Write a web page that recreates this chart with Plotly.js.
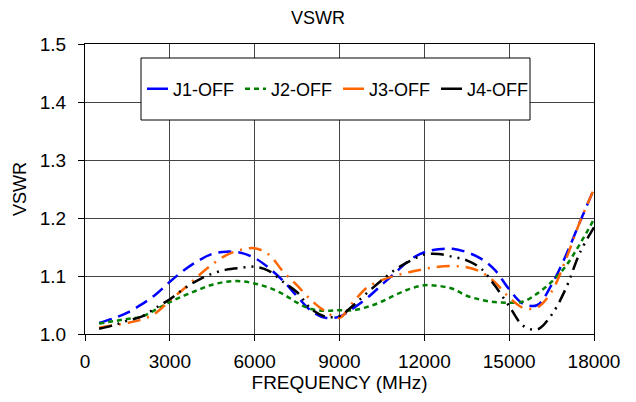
<!DOCTYPE html>
<html>
<head>
<meta charset="utf-8">
<script src="https://cdn.plot.ly/plotly-3.0.1.min.js"></script>
<style>html,body{margin:0;padding:0;background:#fff;}#chart{width:636px;height:402px;}</style>
</head>
<body>
<div id="chart"></div>
<script>
var freq = [500,1000,1500,2000,2500,3000,3500,4000,4500,5000,5500,6000,6500,7000,7500,8000,8500,9000,9500,10000,10500,11000,11500,12000,12500,13000,13500,14000,14500,15000,15500,16000,16500,17000,17500,18000];
var j1 = [1.019,1.027,1.037,1.051,1.068,1.090,1.110,1.126,1.138,1.142,1.140,1.131,1.114,1.092,1.065,1.040,1.028,1.030,1.045,1.063,1.085,1.107,1.128,1.141,1.146,1.147,1.141,1.130,1.110,1.077,1.052,1.050,1.085,1.135,1.193,1.250];
var j2 = [1.018,1.022,1.026,1.030,1.042,1.055,1.066,1.076,1.085,1.090,1.091,1.087,1.080,1.069,1.054,1.043,1.040,1.041,1.041,1.047,1.056,1.068,1.078,1.084,1.083,1.078,1.066,1.059,1.055,1.054,1.056,1.070,1.090,1.117,1.155,1.198];
var j3 = [1.011,1.015,1.019,1.025,1.036,1.058,1.078,1.100,1.120,1.136,1.145,1.148,1.137,1.108,1.084,1.058,1.039,1.028,1.056,1.081,1.093,1.101,1.107,1.112,1.116,1.117,1.115,1.107,1.089,1.063,1.045,1.046,1.073,1.128,1.193,1.250];
var j4 = [1.009,1.015,1.023,1.030,1.045,1.060,1.078,1.093,1.104,1.111,1.114,1.116,1.109,1.090,1.072,1.043,1.030,1.031,1.050,1.072,1.093,1.112,1.126,1.137,1.138,1.133,1.127,1.113,1.083,1.048,1.014,1.008,1.033,1.078,1.140,1.184];
var names = ['J1-OFF','J2-OFF','J3-OFF','J4-OFF'];
var colors = ['#0000ff','#008000','#ff6600','#000000'];
var dashes = ['13px,7px','5px,4px','13px,7px,2px,7px','13px,6px,2px,6px,2px,6px'];
var legendDashes = ['solid','5px,4px','solid','solid'];
var series = [j1,j2,j3,j4];

var traces = [];
series.forEach(function(s,i){
  traces.push({x:freq, y:s, type:'scatter', mode:'lines', name:names[i], showlegend:false,
    line:{color:colors[i], width:2.5, dash:dashes[i], shape:'spline', smoothing:1}});
});
series.forEach(function(s,i){
  traces.push({x:[null], y:[null], type:'scatter', mode:'lines', name:names[i], showlegend:true,
    line:{color:colors[i], width:2.5, dash:legendDashes[i]}});
});

var layout = {
  width:636, height:402,
  margin:{l:85, r:42, t:44, b:68},
  paper_bgcolor:'#fff', plot_bgcolor:'#fff',
  font:{family:'Liberation Sans, Arial, sans-serif', size:19, color:'#000'},
  title:{text:'VSWR', x:0.5, xanchor:'center', y:0.955, yanchor:'middle', font:{size:18}},
  xaxis:{range:[0,18000], dtick:3000, tick0:0, tickformat:'d', showgrid:true, gridcolor:'#444', gridwidth:1,
    showline:true, linecolor:'#000', linewidth:1, mirror:true, ticks:'outside', ticklen:6, tickcolor:'#000',
    ticklabelstandoff:4, tickfont:{size:19},
    zeroline:false, title:{text:'FREQUENCY (MHz)', font:{size:19}, standoff:4}},
  yaxis:{range:[1.0,1.5], dtick:0.1, tick0:1.0, tickformat:'.1f', showgrid:true, gridcolor:'#444', gridwidth:1,
    showline:true, linecolor:'#000', linewidth:1, mirror:true, ticks:'outside', ticklen:6, tickcolor:'#000',
    ticklabelstandoff:8, tickfont:{size:19},
    zeroline:false, title:{text:'VSWR', font:{size:18}, standoff:8}},
  showlegend:true,
  legend:{orientation:'h', x:(142-85)/509, xanchor:'left', y:0.845, yanchor:'middle', bgcolor:'rgba(0,0,0,0)',
    borderwidth:0, font:{size:18}, itemwidth:30, tracegroupgap:0, entrywidth:53, entrywidthmode:'pixels'},
  shapes:[{type:'rect', xref:'paper', yref:'paper', x0:(141-85)/509, x1:(530-85)/509, y0:(334-120)/290, y1:(334-58)/290,
    line:{color:'#000', width:1}, fillcolor:'#fff', layer:'above'}]
};
Plotly.newPlot('chart', traces, layout, {displayModeBar:false, staticPlot:true}).then(function(){
  // shorten legend line samples like the original (short stroke, text close to it)
  document.querySelectorAll('.legend .traces').forEach(function(g){
    var p = g.querySelector('.legendlines path');
    if (p) p.setAttribute('d', 'M5,0h21');
    var t = g.querySelector('text.legendtext');
    if (t) t.setAttribute('x', 31);
  });
});
</script>
</body>
</html>
